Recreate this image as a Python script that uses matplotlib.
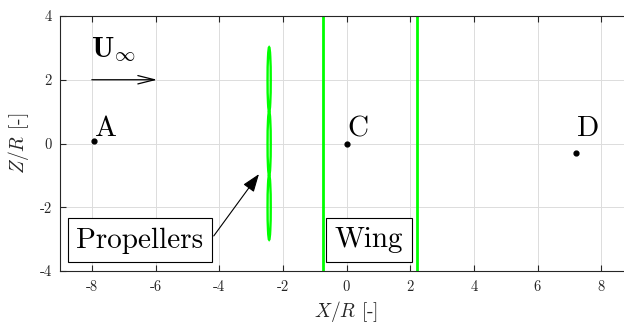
import matplotlib
matplotlib.use("Agg")
import matplotlib.pyplot as plt
from matplotlib.patches import Ellipse
import numpy as np

plt.rcParams['font.family'] = ['cmr10', 'DejaVu Serif']
plt.rcParams['mathtext.fontset'] = 'cm'
plt.rcParams['axes.unicode_minus'] = False
plt.rcParams['axes.formatter.use_mathtext'] = False

# data
point_names = ['A', 'C', 'D']
point_x = [-7.93, 0.0, 7.22]
point_z = [0.09, -0.02, -0.30]
label_z = 0.22
wing_x = [-0.75, 2.2]
prop_x = -2.43
prop_centers = [2.0, 0.0, -2.0]
prop_semi_h = 1.02
prop_semi_w = 0.05
xticks = [-8, -6, -4, -2, 0, 2, 4, 6, 8]
yticks = [-4, -2, 0, 2, 4]

fig = plt.figure(figsize=(6.24, 3.24), dpi=100)
ax = fig.add_axes([60/624, 53/324, 573/624, 255/324])
ax.set_xlim(-9, 9)
ax.set_ylim(-4, 4)
ax.set_xticks(xticks)
ax.set_yticks(yticks)
ax.set_xticklabels([str(t) for t in xticks])
ax.set_yticklabels([str(t) for t in yticks])
ax.grid(True, color='#dcdcdc', lw=0.7)
ax.set_axisbelow(True)
ax.tick_params(direction='in', top=True, right=True, labelsize=10.5, colors='#262626',
               length=4, width=0.8)
ax.tick_params(axis='x', pad=7)
ax.tick_params(axis='y', pad=6)
for s in ax.spines.values():
    s.set_color('#262626')
    s.set_linewidth(0.8)

green = '#00ff00'
for wx in wing_x:
    ax.axvline(wx, color=green, lw=2)
for c in prop_centers:
    ax.add_patch(Ellipse((prop_x, c), 2*prop_semi_w, 2*prop_semi_h, fill=False,
                         ec=green, lw=1.7))

ax.scatter(point_x, point_z, s=12, color='k', zorder=5)
for n, x in zip(point_names, point_x):
    ax.text(x + 0.03, label_z, n, fontsize=21, ha='left', va='baseline')

# freestream
ax.annotate('', xy=(-5.95, 2.0), xytext=(-8.0, 2.0),
            arrowprops=dict(arrowstyle='->,head_length=0.6,head_width=0.15', lw=0.9,
                            color='k', mutation_scale=20, shrinkA=0, shrinkB=0))
ax.text(-8.04, 2.72, r'$\mathbf{U}_{\infty}$', fontsize=21, ha='left', va='baseline')

# labels boxes
ax.text(-6.49, -3.04, 'Propellers', fontsize=21, ha='center', va='center',
        bbox=dict(boxstyle='square,pad=0.3', fc='white', ec='k', lw=0.8))
ax.text(0.70, -3.02, 'Wing', fontsize=21, ha='center', va='center',
        bbox=dict(boxstyle='square,pad=0.3', fc='white', ec='k', lw=0.8))
ax.annotate('', xy=(-2.75, -0.96), xytext=(-4.17, -2.9),
            arrowprops=dict(arrowstyle='-|>,head_length=0.55,head_width=0.2', lw=0.8,
                            color='k', mutation_scale=20, shrinkA=0, shrinkB=0))

ax.set_xlabel(r'$X/R$ [-]', fontsize=14, color='#262626', labelpad=3)
ax.set_ylabel(r'$Z/R$ [-]', fontsize=14, color='#262626', labelpad=6)

fig.savefig('out.png', dpi=100)
